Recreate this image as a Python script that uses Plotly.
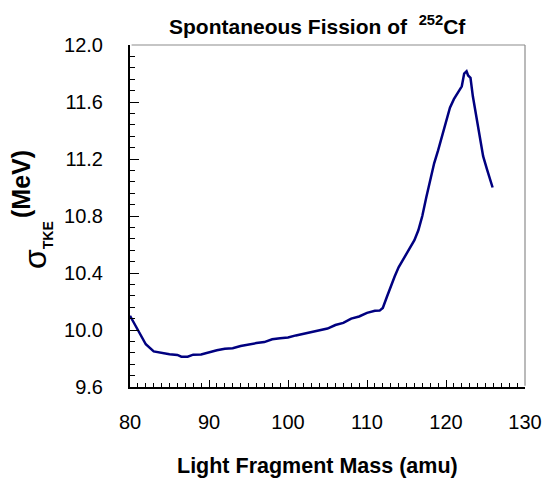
import plotly.graph_objects as go

mass = [80, 80.8, 81.4, 82, 83, 84, 85, 86, 86.5, 87.3, 88, 89, 90, 91, 92, 93, 94, 95, 96,
        97, 98, 99, 100, 101, 102, 103, 104, 105, 106, 107, 108, 109, 110, 111, 111.6, 112,
        112.5, 113, 113.5, 114, 114.5, 115, 115.5, 116, 116.5, 117, 117.5, 118, 118.5, 119,
        119.5, 120, 120.5, 121, 121.5, 122, 122.3, 122.6, 122.8, 123.1, 123.4, 123.9, 124.4,
        124.7, 125.2, 125.9]
sigma_tke = [10.10, 10.02, 9.955, 9.90, 9.85, 9.838, 9.83, 9.825, 9.813, 9.813, 9.827, 9.828,
             9.845, 9.858, 9.869, 9.872, 9.888, 9.90, 9.908, 9.915, 9.935, 9.942, 9.948, 9.962,
             9.975, 9.985, 9.997, 10.01, 10.035, 10.05, 10.08, 10.095, 10.12, 10.135, 10.136,
             10.155, 10.23, 10.31, 10.375, 10.44, 10.49, 10.53, 10.585, 10.63, 10.70, 10.80,
             10.93, 11.06, 11.17, 11.26, 11.36, 11.46, 11.56, 11.62, 11.67, 11.71, 11.80, 11.816,
             11.786, 11.77, 11.64, 11.476, 11.336, 11.22, 11.125, 11.0]
x_range = [80, 130]
y_range = [9.6, 12.0]

FONT = "Liberation Sans, Arial, sans-serif"

fig = go.Figure()
fig.add_trace(go.Scatter(x=mass, y=sigma_tke, mode="lines",
                         line=dict(color="#000080", width=2.5), showlegend=False,
                         hoverinfo="x+y"))
# invisible copy on the overlay axes that carry the tick labels
fig.add_trace(go.Scatter(x=mass, y=sigma_tke, mode="lines", xaxis="x2", yaxis="y2",
                         line=dict(color="rgba(0,0,0,0)", width=0), showlegend=False,
                         hoverinfo="skip"))

W, H = 543, 483
L, R, T, B = 130, 18, 45, 96
PW, PH = W - L - R, H - T - B

fig.update_layout(
    width=W, height=H,
    margin=dict(l=L, r=R, t=T, b=B, pad=0, autoexpand=False),
    paper_bgcolor="white", plot_bgcolor="white",
    font=dict(family=FONT, color="black"),
    xaxis=dict(range=x_range, dtick=10, tick0=80, ticks="inside",
               ticklen=7, tickcolor="black", tickwidth=1, showline=True,
               linecolor="black", linewidth=1.5, showgrid=False, zeroline=False,
               automargin=False, showticklabels=False,
               minor=dict(dtick=1, ticks="inside", ticklen=4,
                          tickcolor="black", showgrid=False)),
    yaxis=dict(range=y_range, dtick=0.4, tick0=9.6, ticks="inside",
               ticklen=9, tickcolor="black", tickwidth=1, showline=True,
               linecolor="black", linewidth=1.5, showgrid=False, zeroline=False,
               automargin=False, showticklabels=False,
               minor=dict(dtick=0.08, ticks="inside",
                          ticklen=5, tickcolor="black", showgrid=False)),
    xaxis2=dict(range=x_range, dtick=10, tick0=80, overlaying="x", anchor="y",
                side="bottom", ticks="outside", ticklen=17,
                tickcolor="rgba(0,0,0,0)", showline=False, showgrid=False,
                zeroline=False, automargin=False,
                tickfont=dict(size=20, family=FONT)),
    yaxis2=dict(range=y_range, dtick=0.4, tick0=9.6, overlaying="y", anchor="x",
                side="left", ticks="outside", ticklen=22,
                tickcolor="rgba(0,0,0,0)", showline=False, showgrid=False,
                zeroline=False, automargin=False, tickformat=".1f",
                tickfont=dict(size=20, family=FONT)),
    shapes=[
        dict(type="line", xref="paper", yref="paper", x0=0.004, x1=1, y0=1, y1=1,
             line=dict(color="#8c8c8c", width=1.2), layer="above"),
        dict(type="line", xref="paper", yref="paper", x0=1, x1=1, y0=0.004, y1=1,
             line=dict(color="#8c8c8c", width=1.2), layer="above"),
    ],
    annotations=[
        dict(text="<b>Spontaneous Fission of&nbsp;&nbsp;<sup>252</sup>Cf</b>",
             xref="paper", yref="paper",
             x=(317 - L) / PW, y=1 + (T - 25) / PH,
             xanchor="center", yanchor="middle", showarrow=False,
             font=dict(size=21, family=FONT)),
        dict(text="<b>Light Fragment Mass (amu)</b>",
             xref="paper", yref="paper",
             x=(317 - L) / PW, y=-(466 - (H - B)) / PH,
             xanchor="center", yanchor="middle", showarrow=False,
             font=dict(size=21.5, family=FONT)),
        dict(text="<b>(MeV)</b>", textangle=-90,
             xref="paper", yref="paper",
             x=-(L - 21) / PW, y=1 - (184 - T) / PH,
             xanchor="center", yanchor="middle", showarrow=False,
             font=dict(size=25, family=FONT)),
        dict(text="σ<sub><b><span style='font-size:14px'>TKE</span></b></sub>",
             textangle=-90,
             xref="paper", yref="paper",
             x=-(L - 36) / PW, y=1 - (245 - T) / PH,
             xanchor="center", yanchor="middle", showarrow=False,
             font=dict(size=32, family=FONT)),
    ],
)

fig.write_html("out.html", config={"displayModeBar": False},
               post_script="document.body.style.margin='0';document.body.style.overflow='hidden';")
